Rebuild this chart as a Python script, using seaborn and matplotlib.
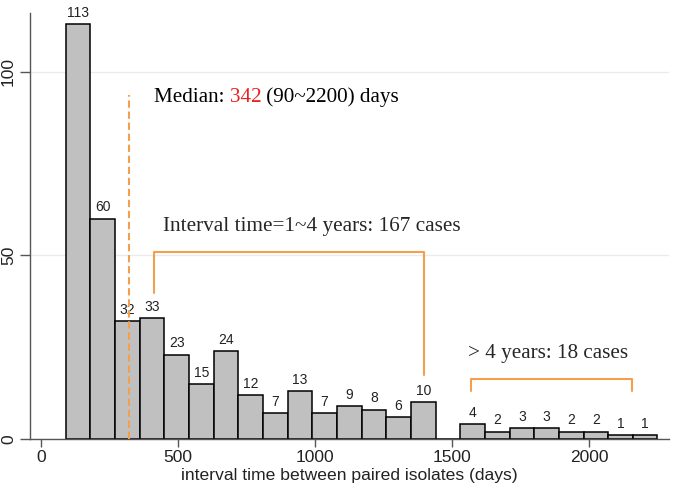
import numpy as np
import pandas as pd
import matplotlib
matplotlib.use('Agg')
import matplotlib.pyplot as plt
import seaborn as sns


# ============================================================
# ДАННЫЕ
# ============================================================

# нижние границы интервалов (дни), ширина интервала 90 дней
bin_lower = [90, 180, 270, 360, 450, 540, 630, 720, 810, 900, 990, 1080,
             1170, 1260, 1350, 1440, 1530, 1620, 1710, 1800, 1890, 1980,
             2070, 2160]
bin_width = 90
counts = [113, 60, 32, 33, 23, 15, 24, 12, 7, 13, 7, 9,
          8, 6, 10, 0, 4, 2, 3, 3, 2, 2, 1, 1]

x_ticks = [0, 500, 1000, 1500, 2000]
y_ticks = [0, 50, 100]

median_line_x = 322
median_parts = ["Median: ", "342", " (90~2200) days"]
mid_label = "Interval time=1~4 years: 167 cases"
late_label = "> 4 years: 18 cases"
x_label = "interval time between paired isolates (days)"

ORANGE = "#F2A04E"
SANS = ["Liberation Sans", "DejaVu Sans"]
SERIF = ["Liberation Serif", "DejaVu Serif"]

# ============================================================
# ГРАФИК
# ============================================================

sns.set_theme(style="ticks")
plt.rcParams['font.family'] = SANS

df = pd.DataFrame({"days": np.array(bin_lower) + bin_width / 2, "n": counts})
edges = list(bin_lower) + [bin_lower[-1] + bin_width]

fig = plt.figure(figsize=(6.75, 4.86), dpi=100)
ax = fig.add_axes([30 / 675, 1 - 439 / 486, 639 / 675, 426 / 486])

sns.histplot(data=df, x="days", weights="n", bins=edges, ax=ax,
             color="#C0C0C0", edgecolor="black", linewidth=1.1, alpha=1)

# подписи над столбиками
for p, c in zip(ax.patches, counts):
    if c == 0:
        continue
    ax.annotate(str(c), (p.get_x() + p.get_width() / 2, p.get_height()),
                xytext=(0, 3), textcoords="offset points",
                ha="center", va="bottom", fontsize=10, color="#222222")

# медиана
ax.plot([median_line_x, median_line_x], [0, 93.7], color=ORANGE,
        linestyle=(0, (3.5, 1.8)), linewidth=1.5, zorder=3)

prev = ax.text(412, 92.9, median_parts[0], fontsize=15.2, family=SERIF,
               va="center", color="black")
for part, col in zip(median_parts[1:], ["#E8231F", "black"]):
    prev = ax.annotate(part, xy=(1, 0), xycoords=prev, fontsize=15.2,
                       family=SERIF, va="bottom", ha="left", color=col)

# скобки
ax.plot([412, 412, 1398, 1398], [39.8, 51, 51, 17.4], color=ORANGE,
        linewidth=1.5, zorder=3)
ax.text(445, 57.8, mid_label, fontsize=15.3, family=SERIF, va="center")

ax.plot([1569, 1569, 2157, 2157], [13.1, 16.3, 16.3, 13.1], color=ORANGE,
        linewidth=1.5, zorder=3)
ax.text(1558, 23.4, late_label, fontsize=15.2, family=SERIF, va="center")

# оси
ax.set_xlim(-40, 2292)
ax.set_ylim(0, 116)
ax.set_xticks(x_ticks)
ax.set_yticks(y_ticks)
ax.set_xlabel(x_label, fontsize=12.6, labelpad=2, color="#222222")
ax.set_ylabel("")
ax.tick_params(axis="x", labelsize=12.5, length=6, width=1, color="#555555",
               labelcolor="#222222", pad=2)
ax.tick_params(axis="y", labelsize=12.5, length=7, width=1, color="#555555",
               labelcolor="#222222", labelrotation=90, pad=3)
for lbl in ax.get_yticklabels():
    lbl.set_va("center")
ax.yaxis.grid(True, color="#EBEBEB", linewidth=1)
ax.set_axisbelow(True)
sns.despine(ax=ax)
for s in ["left", "bottom"]:
    ax.spines[s].set_color("#555555")
    ax.spines[s].set_linewidth(1)

fig.savefig("out.png", dpi=100, facecolor="white")
plt.close(fig)
